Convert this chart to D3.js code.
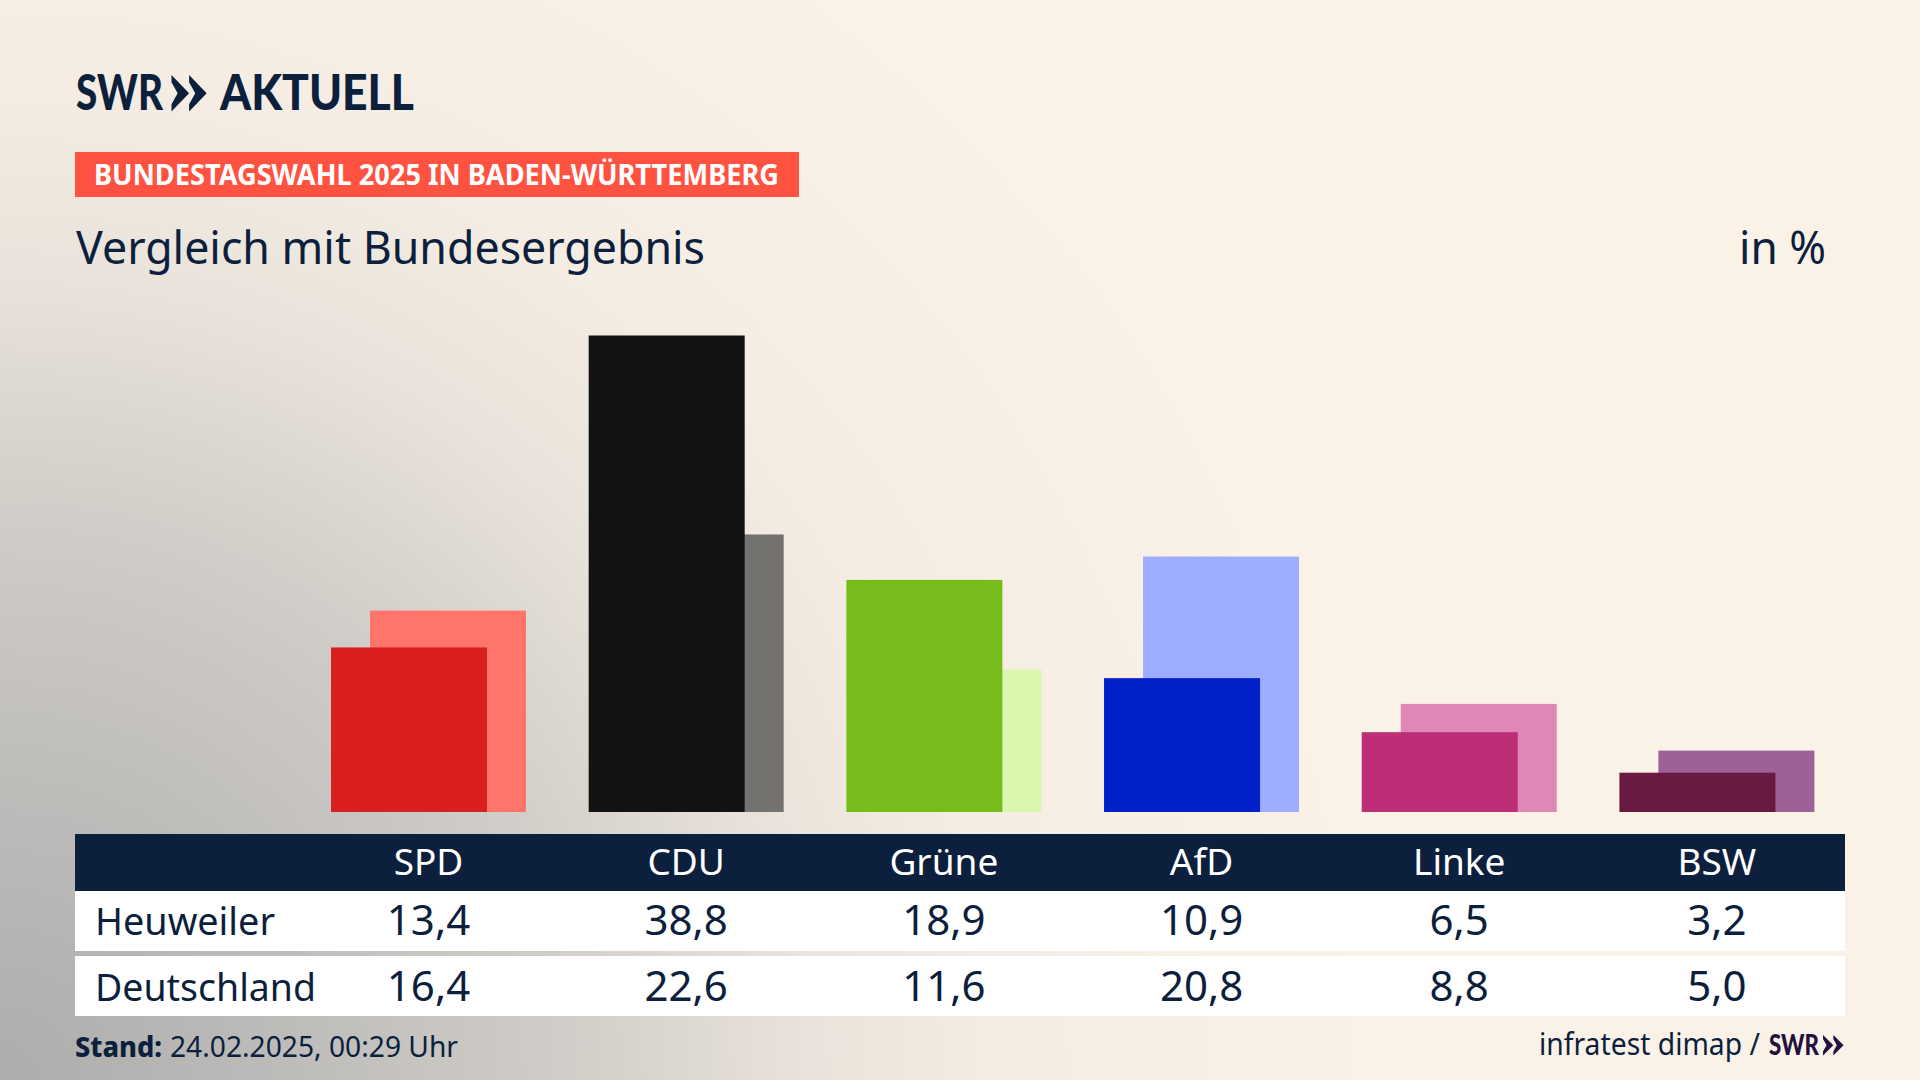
<!DOCTYPE html>
<html>
<head>
<meta charset="utf-8">
<title>Vergleich mit Bundesergebnis</title>
<script src="https://cdn.jsdelivr.net/npm/d3@7"></script>
<style>
  html, body { margin: 0; padding: 0; background: #faf2e7; }
  svg { display: block; }
  text { font-family: "Noto Sans", sans-serif; fill: #0c1f3d; }
  text.logo { font-family: "Lato", sans-serif; }
</style>
</head>
<body>
<script>
var parties = ["SPD", "CDU", "Grüne", "AfD", "Linke", "BSW"];
var heuweiler = [13.4, 38.8, 18.9, 10.9, 6.5, 3.2];
var deutschland = [16.4, 22.6, 11.6, 20.8, 8.8, 5.0];
var rowNames = ["Heuweiler", "Deutschland"];

// party colours, strong for the local result, pale for the national one
var colorsFront = ["#d9201e", "#121212", "#78bc1b", "#0020c8", "#bc2e75", "#6a1a42"];
var colorsBack = ["#ff746b", "#74726f", "#d9f7af", "#9eadff", "#df88b5", "#9e6197"];

var width = 1920, height = 1080;
var navy = "#0c1f3d";

var svg = d3.select("body").append("svg")
    .attr("width", width)
    .attr("height", height);

// background: cream with a grey glow from the bottom left corner
var defs = svg.append("defs");
var glow = defs.append("radialGradient")
    .attr("id", "glow")
    .attr("gradientUnits", "userSpaceOnUse")
    .attr("cx", 0).attr("cy", 1080).attr("r", 1350);
glow.append("stop").attr("offset", "0%").attr("stop-color", "#adadad");
glow.append("stop").attr("offset", "20%").attr("stop-color", "#bcbbb9");
glow.append("stop").attr("offset", "42%").attr("stop-color", "#d1cdc8");
glow.append("stop").attr("offset", "60%").attr("stop-color", "#e9e3db");
glow.append("stop").attr("offset", "74%").attr("stop-color", "#f5ede3");
glow.append("stop").attr("offset", "100%").attr("stop-color", "#faf2e7");

svg.append("rect").attr("width", width).attr("height", height).attr("fill", "url(#glow)");

// stretches a text to the width it has in the picture
function label(x, y, str, size, w, weight) {
  var t = svg.append("text")
      .attr("x", x)
      .attr("y", y)
      .attr("font-size", size)
      .attr("font-weight", weight || 400)
      .text(str);
  if (w) t.attr("textLength", w).attr("lengthAdjust", "spacingAndGlyphs");
  return t;
}

// two chevrons of the SWR logo
function chevrons(x, y, h, w, color) {
  [0, w].forEach(function(dx) {
    svg.append("path")
      .attr("fill", color)
      .attr("d", "M" + (x + dx) + "," + y
        + "L" + (x + dx + w) + "," + (y + h / 2)
        + "L" + (x + dx) + "," + (y + h)
        + "L" + (x + dx) + "," + (y + h * 0.8)
        + "L" + (x + dx + w * 0.35) + "," + (y + h / 2)
        + "L" + (x + dx) + "," + (y + h * 0.2) + "Z");
  });
}

// header
label(76, 110, "SWR", 49, 87, 900).classed("logo", true);
chevrons(171.5, 75, 36.5, 17.6, navy);
label(220, 110, "AKTUELL", 49, 194, 900).classed("logo", true);

svg.append("rect")
    .attr("x", 75).attr("y", 152)
    .attr("width", 724).attr("height", 45)
    .attr("fill", "#ff5240");
label(94, 185, "BUNDESTAGSWAHL 2025 IN BADEN-WÜRTTEMBERG", 28, 685, 700)
    .style("fill", "#fff");

label(76, 264, "Vergleich mit Bundesergebnis", 45, 629);
label(1739, 264, "in %", 45, 87);

// scales
var x = d3.scaleBand()
    .domain(parties)
    .range([331, 1814.4])
    .paddingInner(0.2433);

var y = d3.scaleLinear()
    .domain([0, 38.8])
    .range([812, 335.5]);

var barWidth = 156;

// national bars sit behind, shifted to the right
svg.append("g").selectAll("rect")
    .data(parties)
  .enter().append("rect")
    .attr("x", function(d) { return x(d) + x.bandwidth() - barWidth; })
    .attr("y", function(d, i) { return y(deutschland[i]); })
    .attr("width", barWidth)
    .attr("height", function(d, i) { return y(0) - y(deutschland[i]); })
    .attr("fill", function(d, i) { return colorsBack[i]; });

svg.append("g").selectAll("rect")
    .data(parties)
  .enter().append("rect")
    .attr("x", function(d) { return x(d); })
    .attr("y", function(d, i) { return y(heuweiler[i]); })
    .attr("width", barWidth)
    .attr("height", function(d, i) { return y(0) - y(heuweiler[i]); })
    .attr("fill", function(d, i) { return colorsFront[i]; });

// table under the bars
var center = function(d) { return x(d) + x.bandwidth() / 2; };
var fmt = function(v) { return v.toFixed(1).replace(".", ","); };

svg.append("rect").attr("x", 75).attr("y", 834).attr("width", 1770).attr("height", 57).attr("fill", navy);
svg.append("rect").attr("x", 75).attr("y", 891).attr("width", 1770).attr("height", 60).attr("fill", "#fff");
svg.append("rect").attr("x", 75).attr("y", 956).attr("width", 1770).attr("height", 60).attr("fill", "#fff");

svg.append("g").selectAll("text")
    .data(parties)
  .enter().append("text")
    .attr("x", center)
    .attr("y", 875)
    .attr("text-anchor", "middle")
    .attr("font-size", 37)
    .style("fill", "#fff")
    .text(function(d) { return d; });

[heuweiler, deutschland].forEach(function(values, r) {
  var rowY = r === 0 ? 935 : 1000.5;
  label(95, rowY, rowNames[r], 38, r === 0 ? 180 : 221);
  svg.append("g").selectAll("text")
      .data(parties)
    .enter().append("text")
      .attr("x", center)
      .attr("y", rowY)
      .attr("text-anchor", "middle")
      .attr("font-size", 42)
      .text(function(d, i) { return fmt(values[i]); });
});

// footer
label(75, 1057, "Stand:", 29, 87, 800);
label(170, 1057, "24.02.2025, 00:29 Uhr", 29, 288);
label(1539, 1055, "infratest dimap /", 30, 221);
label(1769, 1055, "SWR", 29, 50, 900).classed("logo", true).style("fill", "#24113f");
chevrons(1823, 1035, 20.5, 10.3, "#24113f");
</script>
</body>
</html>
